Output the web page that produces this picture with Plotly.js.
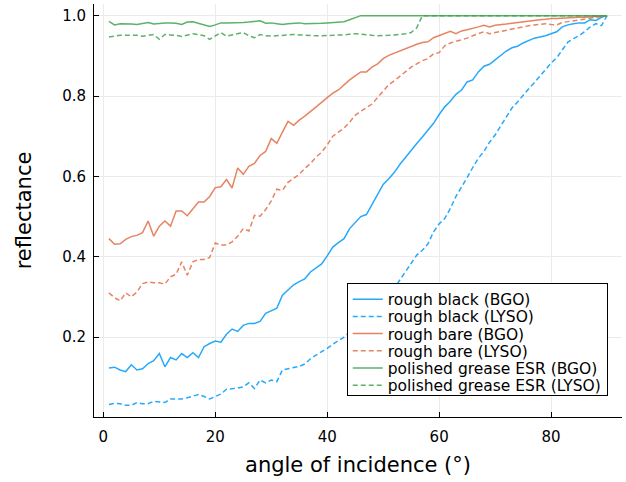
<!DOCTYPE html>
<html>
<head>
<meta charset="utf-8">
<script src="https://cdn.plot.ly/plotly-3.0.1.min.js"></script>
<style>html,body{margin:0;padding:0;background:#fff}#chart{width:626px;height:482px}</style>
</head>
<body>
<div id="chart"></div>
<script>
// angle of incidence (degrees)
const angles = Array.from({length: 90}, (_, i) => i + 1);

const roughBlackBGO = [
0.123,0.125,0.118,0.114,0.131,0.118,0.121,0.134,0.141,0.159,
0.126,0.149,0.143,0.159,0.149,0.161,0.149,0.176,0.184,0.190,
0.187,0.207,0.220,0.214,0.229,0.234,0.234,0.239,0.259,0.265,
0.272,0.304,0.318,0.330,0.338,0.345,0.362,0.372,0.382,0.402,
0.424,0.435,0.445,0.470,0.485,0.500,0.505,0.530,0.557,0.580,
0.594,0.610,0.630,0.648,0.666,0.682,0.698,0.714,0.732,0.754,
0.773,0.787,0.804,0.815,0.835,0.840,0.860,0.874,0.879,0.890,
0.901,0.912,0.920,0.924,0.932,0.939,0.944,0.947,0.950,0.955,
0.960,0.972,0.977,0.980,0.982,0.982,0.990,0.988,0.996,1.000];

const roughBlackLYSO = [
0.032,0.035,0.034,0.030,0.030,0.037,0.034,0.034,0.040,0.038,
0.037,0.046,0.046,0.046,0.049,0.053,0.057,0.052,0.046,0.052,
0.058,0.070,0.071,0.073,0.076,0.086,0.072,0.093,0.086,0.093,
0.089,0.118,0.121,0.124,0.127,0.133,0.146,0.155,0.163,0.172,
0.182,0.190,0.200,0.212,0.225,0.240,0.254,0.268,0.283,0.298,
0.310,0.322,0.342,0.363,0.384,0.404,0.416,0.432,0.462,0.482,
0.495,0.520,0.550,0.572,0.597,0.622,0.645,0.662,0.685,0.703,
0.725,0.748,0.770,0.785,0.802,0.818,0.833,0.850,0.866,0.882,
0.895,0.915,0.934,0.943,0.950,0.960,0.972,0.980,0.975,1.000];

const roughBareBGO = [
0.445,0.431,0.432,0.443,0.450,0.453,0.460,0.489,0.451,0.476,
0.489,0.476,0.514,0.514,0.502,0.520,0.536,0.536,0.550,0.572,
0.574,0.592,0.571,0.621,0.605,0.625,0.632,0.652,0.662,0.694,
0.682,0.710,0.737,0.727,0.740,0.750,0.761,0.771,0.784,0.796,
0.807,0.815,0.828,0.840,0.850,0.860,0.860,0.872,0.880,0.893,
0.901,0.907,0.913,0.918,0.924,0.929,0.933,0.935,0.945,0.950,
0.957,0.961,0.955,0.962,0.965,0.968,0.972,0.976,0.972,0.976,
0.977,0.979,0.981,0.983,0.984,0.986,0.988,0.990,0.991,0.993,
0.993,0.994,0.995,0.995,0.996,0.996,0.997,0.997,0.998,1.000];

const roughBareLYSO = [
0.310,0.298,0.290,0.310,0.300,0.312,0.333,0.337,0.335,0.335,
0.332,0.350,0.356,0.387,0.354,0.387,0.393,0.393,0.398,0.434,
0.429,0.429,0.437,0.451,0.470,0.464,0.503,0.501,0.517,0.539,
0.568,0.565,0.585,0.594,0.605,0.620,0.632,0.648,0.660,0.678,
0.700,0.710,0.720,0.735,0.752,0.762,0.770,0.780,0.796,0.812,
0.828,0.838,0.850,0.862,0.872,0.880,0.888,0.893,0.905,0.908,
0.925,0.932,0.936,0.940,0.944,0.950,0.955,0.960,0.955,0.958,
0.960,0.963,0.966,0.969,0.972,0.975,0.977,0.978,0.980,0.978,
0.977,0.983,0.985,0.988,0.990,0.991,0.993,0.995,0.997,1.000];

const polishedBGO = [
0.986,0.977,0.980,0.980,0.979,0.978,0.981,0.983,0.979,0.981,
0.982,0.982,0.981,0.978,0.984,0.985,0.981,0.978,0.973,0.977,
0.982,0.982,0.982,0.983,0.983,0.984,0.985,0.987,0.981,0.982,
0.980,0.978,0.980,0.981,0.982,0.980,0.980,0.981,0.981,0.982,
0.983,0.984,0.985,0.990,0.995,1.000,1.000,1.000,1.000,1.000,
1.000,1.000,1.000,1.000,1.000,1.000,1.000,1.000,1.000,1.000,
1.000,1.000,1.000,1.000,1.000,1.000,1.000,1.000,1.000,1.000,
1.000,1.000,1.000,1.000,1.000,1.000,1.000,1.000,1.000,1.000,
1.000,1.000,1.000,1.000,1.000,1.000,1.000,1.000,1.000,1.000];

const polishedLYSO = [
0.947,0.949,0.951,0.951,0.951,0.951,0.949,0.951,0.953,0.941,
0.953,0.952,0.951,0.948,0.952,0.955,0.953,0.950,0.941,0.950,
0.958,0.949,0.952,0.955,0.958,0.950,0.945,0.953,0.950,0.949,
0.950,0.950,0.951,0.953,0.952,0.951,0.951,0.950,0.950,0.950,
0.951,0.952,0.952,0.954,0.955,0.954,0.952,0.951,0.950,0.950,
0.951,0.952,0.953,0.955,0.958,0.970,1.000,1.000,1.000,1.000,
1.000,1.000,1.000,1.000,1.000,1.000,1.000,1.000,1.000,1.000,
1.000,1.000,1.000,1.000,1.000,1.000,1.000,1.000,1.000,1.000,
1.000,1.000,1.000,1.000,1.000,1.000,1.000,1.000,1.000,1.000];

const seriesNames = ["rough black (BGO)","rough black (LYSO)","rough bare (BGO)","rough bare (LYSO)","polished grease ESR (BGO)","polished grease ESR (LYSO)"];
const seriesData = [roughBlackBGO, roughBlackLYSO, roughBareBGO, roughBareLYSO, polishedBGO, polishedLYSO];
const colors = ["#009AFA","#009AFA","#E26F46","#E26F46","#3EA44E","#3EA44E"];
const dashes = ["solid","5px,3px","solid","5px,3px","solid","5px,3px"];

const traces = seriesData.map((ys, i) => ({
  x: angles, y: ys, type: "scatter", mode: "lines", name: seriesNames[i],
  line: {color: colors[i], width: 1.5, dash: dashes[i]}, opacity: 0.85
}));

const font = {family: "DejaVu Sans, sans-serif", color: "#000"};
const layout = {
  width: 626, height: 482,
  margin: {l: 94, r: 4, t: 4, b: 65},
  paper_bgcolor: "#fff", plot_bgcolor: "#fff",
  font: Object.assign({size: 15}, font),
  showlegend: true,
  legend: {x: 0.973, xanchor: "right", y: 0.324, yanchor: "top",
    bgcolor: "#fff", bordercolor: "#000", borderwidth: 1,
    font: Object.assign({size: 15.5}, font), tracegroupgap: 0, itemwidth: 30},
  xaxis: {
    range: [-1.67, 92.67], tickvals: [0,20,40,60,80], ticktext: ["0","20","40","60","80"],
    showgrid: true, gridcolor: "#ebebeb", gridwidth: 1,
    zeroline: false, showline: true, linecolor: "#000", linewidth: 1,
    ticks: "inside", ticklen: 5, tickcolor: "#000", mirror: false,
    ticklabelstandoff: 6,
    tickfont: Object.assign({size: 15}, font),
    title: {text: "angle of incidence (°)", font: Object.assign({size: 21}, font), standoff: 12}
  },
  yaxis: {
    range: [0.001, 1.029], tickvals: [0.2,0.4,0.6,0.8,1.0], ticktext: ["0.2","0.4","0.6","0.8","1.0"],
    showgrid: true, gridcolor: "#ebebeb", gridwidth: 1,
    zeroline: false, showline: true, linecolor: "#000", linewidth: 1,
    ticks: "inside", ticklen: 5, tickcolor: "#000", mirror: false,
    ticklabelstandoff: 4,
    tickfont: Object.assign({size: 15}, font),
    title: {text: "reflectance", font: Object.assign({size: 21}, font), standoff: 24}
  }
};

Plotly.newPlot("chart", traces, layout, {displayModeBar: false, staticPlot: true}).then(gd => {
  // tighten legend row spacing to match the reference
  const leg = gd.querySelector(".legend");
  if (!leg) return;
  const items = leg.querySelectorAll(".traces");
  const step = 17.2, first = 16;
  items.forEach((g, i) => {
    const m = /translate\(\s*([-\d.e]+)[ ,]+([-\d.e]+)\s*\)/.exec(g.getAttribute("transform") || "");
    const x = m ? m[1] : 0;
    g.setAttribute("transform", "translate(" + x + "," + (first + i * step) + ")");
  });
  const h = first + (items.length - 1) * step + 10;
  const bg = leg.querySelector(".bg");
  if (bg) bg.setAttribute("height", h);
});
</script>
</body>
</html>
